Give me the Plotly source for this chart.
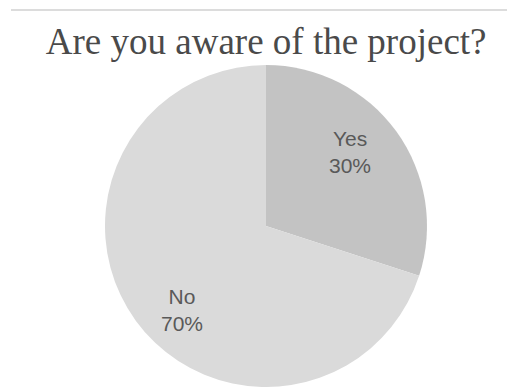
import math
import plotly.graph_objects as go

answers = ["Yes", "No"]
shares = [30, 70]
slice_colors = ["#c3c3c3", "#dadada"]

W, H = 507, 387
cx, r = 266, 161
cy = H - r  # pie centre measured from the top of the page

fig = go.Figure(
    go.Pie(
        labels=answers,
        values=shares,
        sort=False,
        direction="clockwise",
        rotation=0,
        marker=dict(colors=slice_colors, line=dict(width=0)),
        textinfo="none",
        hoverinfo="skip",
        showlegend=False,
        domain=dict(x=[(cx - r) / W, (cx + r) / W], y=[0, 2 * r / H]),
    )
)

# Slice labels placed along each slice's bisector (slightly counter-clockwise)
total = sum(shares)
start = 0.0
annotations = []
for name, val in zip(answers, shares):
    span = 360.0 * val / total
    ang = math.radians(start + span / 2 - 7)
    start += span
    px = cx + 0.715 * r * math.sin(ang)
    py = cy + 5 - 0.715 * r * math.cos(ang)
    annotations.append(
        dict(
            x=px / W,
            y=1 - py / H,
            xref="paper",
            yref="paper",
            text=f"{name}<br>{round(100 * val / total)}%",
            showarrow=False,
            xanchor="center",
            yanchor="middle",
            font=dict(family="Liberation Sans", size=21, color="#595959"),
        )
    )

fig.update_layout(
    width=W,
    height=H,
    margin=dict(l=0, r=0, t=0, b=0),
    paper_bgcolor="white",
    plot_bgcolor="white",
    title=dict(
        text="Are you aware of the project?",
        font=dict(family="Liberation Serif", size=37, color="#4a4a4a"),
        x=0.525,
        xanchor="center",
        y=1 - 41 / H,
        yanchor="middle",
    ),
    annotations=annotations,
    shapes=[
        dict(
            type="line",
            xref="paper",
            yref="paper",
            x0=11 / W,
            x1=1,
            y0=1 - 10 / H,
            y1=1 - 10 / H,
            line=dict(color="#d0d0d0", width=1.5),
        )
    ],
)

fig.write_html("out.html")
